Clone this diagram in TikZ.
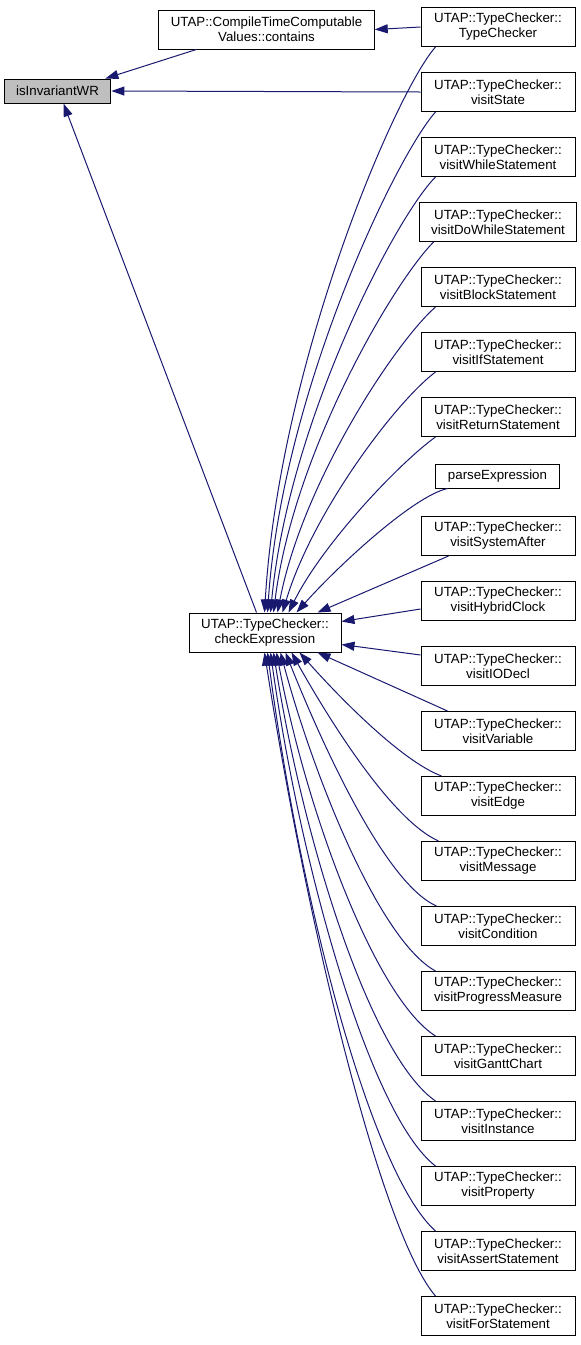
\documentclass[tikz,border=0pt]{standalone}
\usepackage{fontspec}
\setmainfont{Liberation Sans}
\usetikzlibrary{arrows.meta,calc}

\definecolor{edgeblue}{HTML}{191970}

\begin{document}
\begin{tikzpicture}[x=1pt,y=-1pt,
  fn/.style={rectangle,draw,line width=1pt,fill=white,align=center,inner xsep=12pt,inner ysep=2pt,
    minimum width=154pt,minimum height=39pt,font=\fontsize{13.3}{15}\selectfont},
  cur/.style={fn,fill=black!25,minimum width=105pt,minimum height=24pt},
  ar/.style={-{Triangle[length=13pt,width=9pt]},edgeblue,line width=1pt}]

 \useasboundingbox (0,0) rectangle (581,1345);

 % the function and its direct callers
 \node[cur] (isw) at (57.5,91) {isInvariantWR};
 \node[fn,minimum width=215pt] (cont) at (266.5,29.5) {UTAP::CompileTimeComputable\\Values::contains};
 \node[fn,minimum width=152pt] (chk) at (265,632.5) {UTAP::TypeChecker::\\checkExpression};

 % right column
 \foreach \i/\y/\txt in {1/27/TypeChecker, 2/92/visitState, 3/157/visitWhileStatement,
   4/222/visitDoWhileStatement, 5/287/visitBlockStatement, 6/352/visitIfStatement,
   7/417/visitReturnStatement, 9/536/visitSystemAfter, 10/601/visitHybridClock,
   11/666/visitIODecl, 12/731/visitVariable, 13/796/visitEdge, 14/861/visitMessage,
   15/926/visitCondition, 16/991/visitProgressMeasure, 17/1056/visitGanttChart,
   18/1121/visitInstance, 19/1186/visitProperty, 20/1251/visitAssertStatement,
   21/1316/visitForStatement}
   \node[fn] (n\i) at (498,\y) {UTAP::TypeChecker::\\\txt};
 \node[fn,minimum width=119pt,minimum height=24pt] (n8) at (497.5,476) {parseExpression};

 % calls into isInvariantWR and contains
 \draw[ar] (n1.west) -- (cont.east);
 \draw[ar] ($(cont.south west)+(38,0)$) -- ($(isw.north east)+(-6,0)$);
 \draw[ar] (n2.west) -- (isw.east);
 \draw[ar] ($(chk.north west)+(68,0)$) -- ($(isw.south)+(6,0)$);

 % calls into checkExpression, from above
 \foreach \i/\ex/\ax/\ay/\bx/\by in {1/76/-40/45/15/-250, 2/79/-40/45/15/-220, 3/82/-40/40/18/-190,
   4/85/-40/40/20/-160, 5/89/-40/35/25/-130, 6/94/-40/30/30/-100, 7/100/-35/25/35/-70}
   \draw[ar] ($(n\i.south west)+(15,0)$) .. controls +(\ax,\ay) and +(\bx,\by) .. ($(chk.north west)+(\ex,0)$);
 \draw[ar] ($(n8.south west)+(12,0)$) .. controls +(-35,8) and +(40,-45) .. ($(chk.north west)+(108,0)$);
 \draw[ar] ($(n9.south west)+(28,0)$) -- ($(chk.north west)+(129,0)$);
 \draw[ar] ($(n10.west)+(0,8)$) -- ($(chk.east)+(0,-11)$);
 \draw[ar] ($(n11.west)+(0,-11)$) -- ($(chk.east)+(0,12)$);

 % calls into checkExpression, from below
 \draw[ar] ($(n12.north west)+(27,0)$) -- ($(chk.south west)+(129,0)$);
 \foreach \i/\sx/\ex/\ax/\ay/\bx/\by in {13/21/111/-40/-15/40/45, 14/18/103/-45/-20/42/75,
   15/16/97/-50/-22/40/100, 16/15/92/-55/-30/35/130, 17/15/88/-60/-38/30/160,
   18/15/85/-65/-45/30/190, 19/15/82/-65/-50/30/215, 20/15/79/-65/-58/32/245,
   21/15/76/-55/-64/42/270}
   \draw[ar] ($(n\i.north west)+(\sx,0)$) .. controls +(\ax,\ay) and +(\bx,\by) .. ($(chk.south west)+(\ex,0)$);
\end{tikzpicture}
\end{document}
